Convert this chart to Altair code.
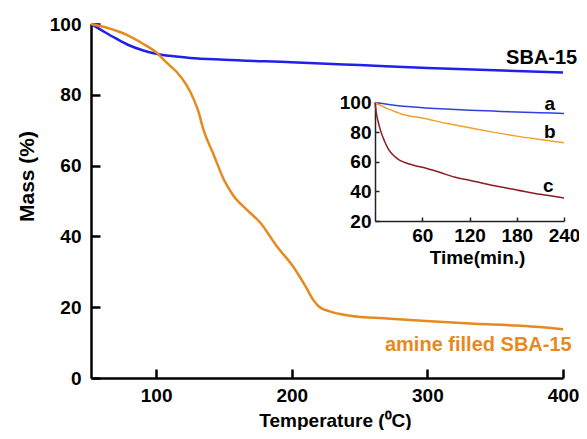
import altair as alt
import pandas as pd

# ---------------- data ----------------
sba_T = [52, 60, 70, 80, 90, 100, 110, 125, 150, 200, 250, 300, 350, 400]
sba_mass = [100, 98.2, 96.0, 94.0, 92.6, 91.6, 91.0, 90.4, 89.9, 89.2, 88.4, 87.6, 86.9, 86.3]

amine_T = [52, 65, 78, 90, 100, 108, 115, 122, 128, 131, 135, 142, 150, 157, 167, 177,
           189, 201, 210, 216, 220, 228, 243, 270, 302, 335, 366, 400]
amine_mass = [100, 98.8, 97.0, 94.5, 92.0, 89.0, 86.5, 83.0, 78.5, 75.5, 70.0, 63.5, 56.0, 51.5,
              47.5, 43.8, 37.2, 31.5, 26.0, 22.0, 20.2, 18.8, 17.6, 16.8, 16.0, 15.3, 14.8, 13.8]

a_t = [0, 30, 60, 90, 120, 150, 180, 210, 240]
a_val = [100, 97.8, 96.5, 95.6, 94.8, 94.2, 93.6, 93.1, 92.6]

b_t = [0, 15, 30, 38, 60, 90, 120, 150, 180, 210, 240]
b_val = [100, 96.0, 93.0, 91.5, 89.5, 86.0, 83.0, 80.0, 77.3, 75.0, 72.8]

c_t = [0, 2, 4, 8, 12, 17, 24, 30, 38, 50, 66, 90, 102, 120, 150, 180, 210, 240]
c_val = [100, 92, 87, 79.5, 74, 68.5, 64, 61.5, 59.5, 57.5, 55.5, 51.5, 49.5, 47.5, 44, 41, 38, 35.5]

main_labels = ["SBA-15", "amine filled SBA-15"]
main_label_T = [410.5, 406.4]
main_label_mass = [90.3, 9.3]

inset_labels = ["a", "b", "c"]
inset_label_t = [222, 222, 220]
inset_label_val = [99.3, 79.9, 43.7]

# ---------------- frames ----------------
main_df = pd.concat([
    pd.DataFrame({"T": sba_T, "mass": sba_mass, "series": "SBA-15"}),
    pd.DataFrame({"T": amine_T, "mass": amine_mass, "series": "amine"}),
])
inset_df = pd.concat([
    pd.DataFrame({"t": a_t, "v": a_val, "series": "a"}),
    pd.DataFrame({"t": b_t, "v": b_val, "series": "b"}),
    pd.DataFrame({"t": c_t, "v": c_val, "series": "c"}),
])
main_lab_df = pd.DataFrame({"T": main_label_T, "mass": main_label_mass, "label": main_labels})
inset_lab_df = pd.DataFrame({"t": inset_label_t, "v": inset_label_val, "label": inset_labels})

W, H = 472, 354
FONT = "Liberation Sans"
BLUE = "#2020e8"
ORANGE = "#e8891e"

main_x = alt.Scale(domain=[52, 400], nice=False, zero=False)
main_y = alt.Scale(domain=[0, 100], nice=False, zero=False)
inset_x = alt.Scale(domain=[0, 240], range=[284, 473], nice=False, zero=False)
inset_y = alt.Scale(domain=[20, 100], range=[197, 78.5], nice=False, zero=False)

lab_style = dict(labelFont=FONT, labelFontWeight="bold", labelColor="black",
                 labelOverlap=False, labelFlush=False)
ttl_style = dict(titleFont=FONT, titleFontWeight="bold", titleColor="black")

main_lines = alt.Chart(main_df).mark_line(strokeWidth=2.5, interpolate="monotone").encode(
    x=alt.X("T:Q", scale=main_x, axis=alt.Axis(
        orient="bottom", values=[100, 200, 300, 400], tickSize=0, domainWidth=2.5,
        domainColor="black", labelPadding=8, labelFontSize=19, grid=False,
        title="Temperature (⁰C)", titleFontSize=19, titleX=244, titleY=48,
        titleBaseline="alphabetic", titleAlign="center", **lab_style, **ttl_style)),
    y=alt.Y("mass:Q", scale=main_y, axis=alt.Axis(
        orient="left", values=[0, 20, 40, 60, 80, 100], tickSize=0, domainWidth=2.5,
        domainColor="black", labelPadding=10, labelFontSize=19, grid=False, title="Mass (%)",
        titleFontSize=21, titleX=-64, titleY=152, titleBaseline="middle",
        titleAlign="center", **lab_style, **ttl_style)),
    color=alt.Color("series:N", scale=alt.Scale(domain=["SBA-15", "amine"], range=[BLUE, ORANGE]),
                    legend=None),
    detail="series:N",
)

main_ticks = alt.Chart(main_df).mark_line(opacity=0).encode(
    x=alt.X("T:Q", scale=main_x, axis=alt.Axis(
        orient="top", offset=-H, values=[100, 200, 300, 400], tickSize=9, tickWidth=2.5,
        tickColor="black", labels=False, domain=False, grid=False, title=None)),
    y=alt.Y("mass:Q", scale=main_y, axis=alt.Axis(
        orient="right", offset=-W, values=[0, 20, 40, 60, 80, 100], tickSize=9, tickWidth=2.5,
        tickColor="black", labels=False, domain=False, grid=False, title=None)),
    detail="series:N",
)

main_text = alt.Chart(main_lab_df).mark_text(
    font=FONT, fontSize=20, fontWeight="bold", align="right", baseline="middle"
).encode(
    x=alt.X("T:Q", scale=main_x, axis=None),
    y=alt.Y("mass:Q", scale=main_y, axis=None),
    text="label:N",
    color=alt.Color("label:N", scale=alt.Scale(domain=main_labels, range=["black", ORANGE]),
                    legend=None),
)

inset_lines = alt.Chart(inset_df).mark_line(strokeWidth=1.5, interpolate="monotone").encode(
    x=alt.X("t:Q", scale=inset_x, axis=alt.Axis(
        orient="bottom", offset=-(H - 197), values=[60, 120, 180, 240], tickSize=0,
        domainWidth=1.5, domainColor="#222222", labelPadding=5, labelFontSize=19, grid=False,
        title="Time(min.)", titleFontSize=19, titleX=386, titleY=42, titleBaseline="alphabetic",
        titleAlign="center", **lab_style, **ttl_style)),
    y=alt.Y("v:Q", scale=inset_y, axis=alt.Axis(
        orient="left", offset=-284, values=[20, 40, 60, 80, 100], tickSize=0,
        domainWidth=1.5, domainColor="#222222", labelPadding=4, labelFontSize=19, grid=False,
        title=None, **lab_style)),
    color=alt.Color("series:N", scale=alt.Scale(domain=["a", "b", "c"],
                                                range=["#3040e0", "#f0a030", "#8b1c24"]),
                    legend=None),
    detail="series:N",
)

inset_ticks = alt.Chart(inset_df).mark_line(opacity=0).encode(
    x=alt.X("t:Q", scale=inset_x, axis=alt.Axis(
        orient="top", offset=-197, values=[60, 120, 180, 240], tickSize=4, tickWidth=1.5,
        tickColor="#222222", labels=False, domain=False, grid=False, title=None)),
    y=alt.Y("v:Q", scale=inset_y, axis=alt.Axis(
        orient="right", offset=-(W - 284), values=[20, 40, 60, 80, 100], tickSize=4,
        tickWidth=1.5, tickColor="#222222", labels=False, domain=False, grid=False, title=None)),
    detail="series:N",
)

inset_text = alt.Chart(inset_lab_df).mark_text(
    font=FONT, fontSize=19, fontWeight="bold", align="center", baseline="middle", color="black"
).encode(
    x=alt.X("t:Q", scale=inset_x, axis=None),
    y=alt.Y("v:Q", scale=inset_y, axis=None),
    text="label:N",
)

chart = alt.layer(
    main_lines, main_ticks, main_text, inset_lines, inset_ticks, inset_text
).resolve_scale(
    x="independent", y="independent", color="independent"
).resolve_axis(
    x="independent", y="independent"
).properties(
    width=W, height=H,
    autosize=alt.AutoSizeParams(type="none"),
    padding={"left": 83, "top": 16, "right": 16, "bottom": 52},
    background="white",
).configure_view(stroke=None)

chart.save("out.html", embed_options={"renderer": "svg", "actions": False})
